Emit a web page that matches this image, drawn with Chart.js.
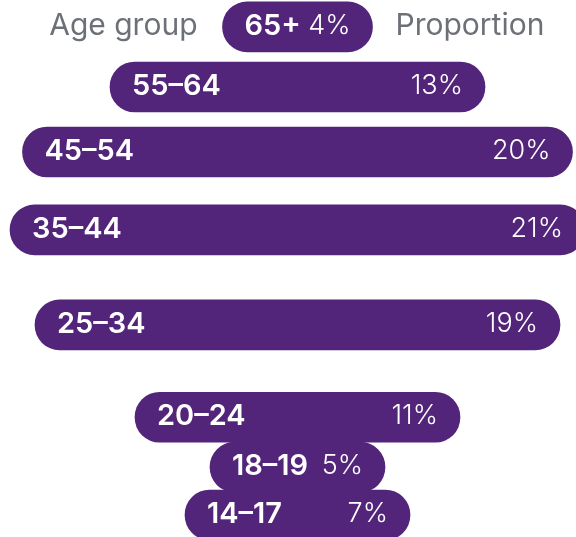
<!DOCTYPE html>
<html>
<head>
<meta charset="utf-8">
<script src="https://cdn.jsdelivr.net/npm/chart.js@4.4.1/dist/chart.umd.min.js"></script>
<style>
  html, body { margin: 0; padding: 0; background: #ffffff; }
  .wrap { width: 576px; height: 537px; position: relative; }
</style>
</head>
<body>
<div class="wrap"><canvas id="ageChart"></canvas></div>
<script>
// age groups, top to bottom
const ageGroups = ['65+', '55-64', '45-54', '35-44', '25-34', '20-24', '18-19', '14-17'];
// share of people in each group (%)
const proportion = [4, 13, 20, 21, 19, 11, 5, 7];
// where each group sits on the hidden vertical age axis (0 = bottom, 100 = top)
const ageLevel = [95.0, 83.8, 71.7, 57.2, 39.5, 22.3, 13.0, 4.1];
const headerLeft = 'Age group';
const headerRight = 'Proportion';

const purple = '#52247a';
const grey = '#6c7077';
const capUnits = 1; // round end cap, in % units

// floating bars centred on 0, with the rounded caps added on both ends
const barData = proportion.map((p, i) => ({
  x: [-(p / 2 + capUnits), p / 2 + capUnits],
  y: ageLevel[i]
}));

const labelPlugin = {
  id: 'barLabels',
  afterDatasetsDraw(chart) {
    const ctx = chart.ctx;
    const meta = chart.getDatasetMeta(0);
    ctx.save();
    ctx.fillStyle = '#ffffff';
    ctx.textBaseline = 'middle';
    meta.data.forEach((bar, i) => {
      const left = Math.min(bar.x, bar.base);
      const right = Math.max(bar.x, bar.base);
      ctx.font = '600 29px Inter';
      ctx.textAlign = 'left';
      ctx.fillText(ageGroups[i].replace('-', '\u2013'), left + 22, bar.y - 1);
      ctx.font = '300 27px Inter';
      ctx.textAlign = 'right';
      ctx.fillText(proportion[i] + '%', right - 22, bar.y - 1);
      if (i === 0) {
        ctx.fillStyle = grey;
        ctx.font = '400 30px Inter';
        ctx.textAlign = 'right';
        ctx.fillText(headerLeft, left - 25, bar.y - 1);
        ctx.textAlign = 'left';
        ctx.fillText(headerRight, right + 23, bar.y - 1);
        ctx.fillStyle = '#ffffff';
      }
    });
    ctx.restore();
  }
};

new Chart(document.getElementById('ageChart'), {
  type: 'bar',
  data: {
    datasets: [{
      data: barData,
      backgroundColor: purple,
      borderWidth: 0,
      borderRadius: 25,
      borderSkipped: false,
      barThickness: 50
    }]
  },
  options: {
    indexAxis: 'y',
    responsive: true,
    maintainAspectRatio: false,
    animation: false,
    layout: { padding: 0 },
    plugins: {
      legend: { display: false },
      tooltip: { enabled: false }
    },
    scales: {
      x: { type: 'linear', min: -11.9, max: 11.14, display: false },
      y: { type: 'linear', min: 0, max: 100, offset: false, display: false }
    }
  },
  plugins: [labelPlugin]
});
</script>
</body>
</html>
